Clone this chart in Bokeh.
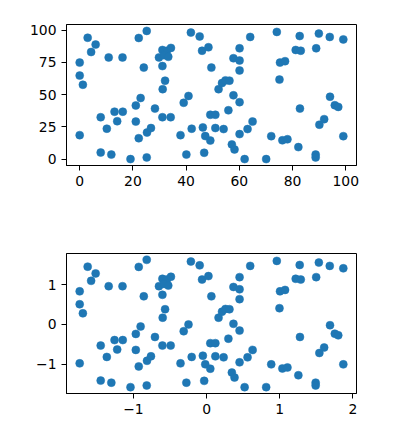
import numpy as np
from bokeh.plotting import figure
from bokeh.layouts import column
from bokeh.models import Range1d, FixedTicker
from bokeh.embed import file_html
from bokeh.resources import INLINE

# raw data
x_raw = [3.0, 6.0, 4.3, 0.0, 0.0, 1.2, 0.0, 10.9, 16.1, 7.9,
         10.2, 13.1, 14.1, 16.2, 7.9, 11.9, 19.1, 25.2, 22.2, 25.2,
         24.1, 21.1, 22.9, 21.1, 22.2, 25.3, 26.8, 28.3, 31.1, 34.2,
         31.2, 32.1, 31.1, 31.1, 32.8, 34.3, 29.8, 31.7, 33.3, 37.9,
         39.1, 40.9, 40.1, 42.1, 41.8, 45.1, 46.0, 48.4, 49.5, 46.3,
         47.2, 49.1, 46.8, 49.1, 51.0, 51.0, 54.1, 52.2, 53.5, 54.8,
         56.3, 57.8, 60.1, 55.9, 60.1, 63.1, 65.0, 57.2, 58.2, 62.0,
         70.1, 72.0, 76.2, 78.1, 82.2, 88.7, 88.7, 82.8, 90.1, 91.9,
         94.1, 95.9, 97.2, 99.1, 64.1, 74.1, 82.7, 89.9, 94.0, 99.1,
         60.1, 57.8, 60.1, 60.1, 81.2, 83.1, 88.9, 75.3, 77.2, 75.1]
y_raw = [94.2, 88.9, 83.1, 74.9, 64.8, 57.7, 18.6, 78.9, 78.9, 32.5,
         23.6, 36.8, 29.4, 36.8, 5.1, 3.5, 0.0, 1.3, 94.0, 99.5,
         71.0, 41.6, 47.4, 29.1, 16.2, 20.6, 24.1, 39.2, 32.5, 32.5,
         54.3, 60.9, 72.2, 84.7, 84.1, 86.3, 78.9, 80.7, 79.4, 18.6,
         43.7, 49.0, 3.5, 23.6, 98.2, 95.2, 84.1, 86.8, 71.0, 24.6,
         17.9, 14.4, 4.9, 34.4, 34.4, 24.1, 23.3, 54.3, 59.0, 61.1,
         60.9, 49.5, 44.2, 37.9, 19.4, 23.3, 29.1, 11.4, 7.5, 0.0,
         0.0, 17.8, 14.6, 15.4, 9.3, 3.5, 1.3, 39.2, 26.7, 31.0,
         48.4, 41.8, 40.5, 17.8, 94.8, 98.7, 95.5, 97.4, 94.8, 92.9,
         86.0, 78.3, 76.5, 68.8, 84.7, 84.1, 86.0, 74.9, 76.0, 61.7]

top_xticks = [0, 20, 40, 60, 80, 100]
top_yticks = [0, 25, 50, 75, 100]
bot_xticks = [-1, 0, 1, 2]
bot_yticks = [-1, 0, 1]

xa = np.array(x_raw)
ya = np.array(y_raw)
# standardized (bottom panel)
x_std = (xa - xa.mean()) / xa.std()
y_std = (ya - ya.mean()) / ya.std()

COLOR = "#1f77b4"
FONT = "DejaVu Sans"


def pad(arr):
    lo, hi = float(np.min(arr)), float(np.max(arr))
    s = hi - lo
    return Range1d(lo - 0.05 * s, hi + 0.05 * s)


def tick_label(v):
    s = str(int(v))
    return s.replace("-", "\u2212")


def make(xs, ys, xt, yt, top_border, bottom_border, frame_h):
    p = figure(frame_width=290, frame_height=frame_h,
               width=393, height=top_border + frame_h + bottom_border,
               x_range=pad(xs), y_range=pad(ys),
               output_backend="svg", toolbar_location=None,
               min_border_left=66, min_border_right=37,
               min_border_top=top_border, min_border_bottom=bottom_border)
    p.scatter(xs, ys, size=8, fill_color=COLOR, line_color=COLOR, line_width=0.5)
    p.grid.visible = False
    p.outline_line_color = "black"
    p.outline_line_width = 1
    p.outline_line_alpha = 1
    p.background_fill_color = "white"
    p.border_fill_color = "white"
    for ax, ticks in ((p.xaxis[0], xt), (p.yaxis[0], yt)):
        ax.ticker = FixedTicker(ticks=ticks)
        ax.major_label_overrides = {t: tick_label(t) for t in ticks}
        ax.axis_line_color = "black"
        ax.major_tick_line_color = "black"
        ax.major_tick_out = 5
        ax.major_tick_in = 0
        ax.minor_tick_line_color = None
        ax.major_label_text_font = FONT
        ax.major_label_text_font_size = "13.9px"
        ax.major_label_text_color = "black"
        ax.major_label_standoff = 5
    return p


p1 = make(xa, ya, top_xticks, top_yticks, 24, 55, 141)
p2 = make(x_std, y_std, bot_xticks, bot_yticks, 33, 40, 140)

layout = column(p1, p2, spacing=0)
open("out.html", "w").write(file_html(layout, INLINE))
